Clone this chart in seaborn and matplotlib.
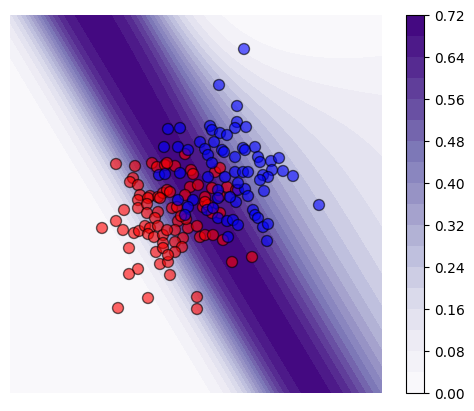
import numpy as np
import pandas as pd
import matplotlib
matplotlib.use("Agg")
import matplotlib.pyplot as plt
import seaborn as sns

# scatter points (class 0 = red, class 1 = blue)
red_x = [-1.60, -1.22, -0.88, -0.78, -0.62, -0.42, -0.22, -0.10, -0.06, 0.38, 0.48,
         -1.26, -1.32, -1.16, -1.12, -0.92, -0.76, -0.66, -0.58, -0.12, 0.04, 0.32,
         0.62, 0.48, 0.80, -0.52, -0.22, 0.18, -1.16, -0.96, -0.72, -1.44, -1.16,
         -0.98, -0.76, -0.98, -0.82, -1.60, -1.88, -1.46, -1.24, -1.14, -1.02, -0.92,
         -0.76, -0.96, -0.84, -0.66, -0.66, -1.34, -0.80, -0.66, -0.72, -0.56, -1.16,
         -1.34, -0.52, -0.48, -0.38, 0.14, 0.24, 0.48, -0.36, -0.16, 0.02, -0.42,
         -0.58, 0.08, 0.18, 0.34, 0.54, -0.26, -0.42, -0.28, -0.42, -0.56, 0.72,
         0.18, 0.32, 1.12, -0.96, -1.56, 0.02, 0.02, -0.58, -0.20, -0.30]
red_y = [0.80, 0.76, 0.82, 0.74, 0.78, 0.76, 1.00, 0.68, 0.60, 0.64, 0.72,
         0.52, 0.44, 0.38, 0.18, 0.16, 0.14, 0.22, 0.28, 0.34, 0.38, 0.32,
         0.34, 0.16, 0.28, 0.24, 0.18, 0.14, 0.08, 0.12, 0.12, -0.12, -0.08,
         0.00, -0.16, -0.18, -0.28, -0.34, -0.48, -0.52, -0.58, -0.54, -0.44, -0.48,
         -0.44, -0.60, -0.66, -0.62, -0.78, -0.88, -0.96, -0.88, -1.20, -1.16, -1.30,
         -1.40, -1.42, -0.08, -0.06, -0.06, -0.02, -0.18, -0.34, -0.48, -0.44, -0.52,
         -0.52, -0.66, -0.62, -0.62, -0.72, -0.68, -0.76, -0.86, -0.96, -1.02, -1.16,
         0.04, -0.18, -1.06, -1.88, -2.08, -1.86, -2.10, 0.82, -0.30, -0.24]

blue_x = [0.96, 0.46, 0.82, 0.28, 0.32, 0.82, 0.78, 1.00, -0.56, -0.32, 0.48, 0.62,
          0.08, 0.36, -0.64, -0.36, -0.16, 0.94, 0.98, 1.18, 0.18, 0.52, 0.56, 0.78,
          0.24, 0.32, 1.24, 1.28, 1.50, 1.66, -0.74, -0.62, -0.32, 0.24, 0.58, 0.78,
          0.94, 1.04, 1.52, 1.74, 1.94, 1.34, 1.44, 1.28, 1.36, 0.84, 0.98, 1.04,
          0.44, -0.36, -0.06, -0.16, 0.22, 0.34, 0.44, 0.80, 0.44, 0.62, 0.74, 0.84,
          1.14, 1.18, 1.24, 1.34, 1.44, 0.64, 1.42, -0.22, 2.46, 0.68, 0.84]
blue_y = [3.10, 2.38, 1.96, 1.56, 1.48, 1.64, 1.52, 1.54, 1.50, 1.52, 1.42, 1.38,
          1.24, 1.24, 1.14, 1.14, 1.08, 1.12, 1.08, 1.14, 1.10, 1.08, 1.04, 0.94,
          0.98, 0.82, 0.94, 0.84, 0.86, 0.92, 0.58, 0.60, 0.62, 0.54, 0.54, 0.64,
          0.64, 0.64, 0.68, 0.66, 0.56, 0.58, 0.54, 0.48, 0.26, 0.28, 0.30, 0.16,
          0.28, 0.08, 0.08, -0.06, -0.12, -0.08, 0.12, 0.04, -0.28, -0.34, -0.32, -0.42,
          -0.12, -0.22, -0.28, -0.46, -0.40, -0.66, -0.74, -0.22, -0.02, 0.14, 0.42]

# predictive-entropy surface: boundary geometry and profile shape
boundary_normal = (0.858, 0.514)
boundary_offset = 0.17
boundary_center = (0.48, 0.02)
red_width = 1.85       # distance where the red side turns white
top_width = 2.0        # same for the blue side near the top
profile_power = 1.5
blue_slope = 1.7       # blue side further down: near-linear, saturating
blue_saturation = 2.62
blend_at = -2.5
blend_soft = 0.7
entropy_levels = np.arange(0, 0.76, 0.04)
cbar_ticks = np.arange(0, 0.73, 0.08)

xlim = (-3.72, 3.72)
ylim = (-3.78, 3.78)

points = pd.DataFrame({
    "x": red_x + blue_x,
    "y": red_y + blue_y,
    "label": ["red"] * len(red_x) + ["blue"] * len(blue_x),
})

gx, gy = np.meshgrid(np.linspace(*xlim, 300), np.linspace(*ylim, 300))
u = boundary_normal[0] * gx + boundary_normal[1] * gy - boundary_offset
t = (boundary_normal[1] * (gx - boundary_center[0])
     - boundary_normal[0] * (gy - boundary_center[1]))
au = np.abs(u)
left = -5 * (au / red_width) ** profile_power
right_top = 5 * (au / top_width) ** profile_power
right_mid = blue_slope * au / np.sqrt(1 + (au / blue_saturation) ** 2)
mix = 1 / (1 + np.exp(-(t - blend_at) / blend_soft))
logit = np.where(u < 0, left, (1 - mix) * right_top + mix * right_mid)
p = np.clip(1 / (1 + np.exp(-logit)), 1e-12, 1 - 1e-12)
entropy = -p * np.log(p) - (1 - p) * np.log(1 - p)

fig = plt.figure(figsize=(4.74, 4.11), dpi=100)
ax = fig.add_axes([10 / 474, 18 / 411, 372 / 474, 378 / 411])
cax = fig.add_axes([406 / 474, 18 / 411, 18 / 474, 378 / 411])

cs = ax.contourf(gx, gy, entropy, levels=entropy_levels, cmap="Purples")
sns.scatterplot(data=points, x="x", y="y", hue="label",
                palette={"red": "red", "blue": "blue"}, s=62, alpha=0.6,
                edgecolor="k", linewidth=1, legend=False, ax=ax)
ax.set_xlim(*xlim)
ax.set_ylim(*ylim)
ax.axis("off")

cb = fig.colorbar(cs, cax=cax, ticks=cbar_ticks, format="%.2f")
cb.ax.tick_params(labelsize=10)

fig.savefig("out.png", dpi=100)
